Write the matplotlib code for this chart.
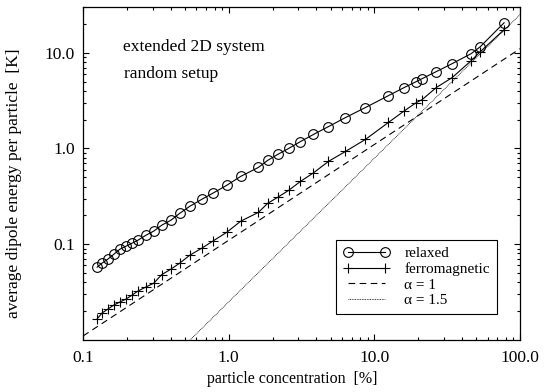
import matplotlib
matplotlib.use("Agg")
import matplotlib.pyplot as plt
from matplotlib.ticker import FixedLocator, FixedFormatter, LogLocator, NullFormatter

plt.rcParams['font.family'] = ['Liberation Serif', 'DejaVu Serif']

# concentration [%]
conc = [0.125, 0.135, 0.148, 0.163, 0.179, 0.197, 0.217, 0.238, 0.270, 0.306,
        0.347, 0.401, 0.461, 0.541, 0.653, 0.776, 0.969, 1.21, 1.60, 1.85,
        2.17, 2.58, 3.11, 3.82, 4.84, 6.33, 8.67, 12.5, 16.0, 19.4,
        21.3, 26.6, 34.2, 46.2, 53.2, 77.7]
relaxed = [0.0576, 0.0634, 0.0698, 0.0787, 0.0887, 0.0953, 0.1024, 0.110, 0.124, 0.137,
           0.158, 0.178, 0.210, 0.249, 0.294, 0.340, 0.412, 0.511, 0.634, 0.750,
           0.866, 1.00, 1.18, 1.40, 1.69, 2.10, 2.67, 3.56, 4.32, 4.99,
           5.36, 6.34, 7.68, 9.77, 11.5, 20.5]
ferro = [0.0166, 0.0191, 0.0210, 0.0232, 0.0249, 0.0267, 0.0294, 0.0324, 0.0357, 0.0392,
         0.0481, 0.0549, 0.0634, 0.0768, 0.0908, 0.1075, 0.133, 0.174, 0.215, 0.267,
         0.309, 0.365, 0.453, 0.556, 0.732, 0.930, 1.24, 1.87, 2.46, 3.01,
         3.24, 4.32, 5.49, 8.25, 10.2, 17.4]

# power-law guide lines (endpoints)
alpha1_x = [0.1, 100.0]
alpha1_y = [0.011, 11.0]
alpha15_x = [0.4, 100.0]
alpha15_y = [0.00632, 25.0]

xticks = [0.1, 1.0, 10.0, 100.0]
xticklabels = ["0.1", "1.0", "10.0", "100.0"]
yticks = [0.1, 1.0, 10.0]
yticklabels = ["0.1", "1.0", "10.0"]

fig = plt.figure(figsize=(5.52, 3.92), dpi=100)
ax = fig.add_axes([0.1504, 0.1327, 0.7917, 0.8495])

ax.plot(conc, relaxed, '-', color='black', lw=0.8, marker='o', ms=7,
        mfc='none', mec='black', mew=0.8, label='relaxed')
ax.plot(conc, ferro, '-', color='black', lw=0.8, marker='+', ms=7.5,
        mew=0.8, label='ferromagnetic')
ax.plot(alpha1_x, alpha1_y, '--', color='black', lw=0.8, dashes=(6, 4),
        label='α = 1')
ax.plot(alpha15_x, alpha15_y, ':', color='black', lw=0.6, dashes=(1, 1),
        label='α = 1.5')

ax.set_xscale('log')
ax.set_yscale('log')
ax.set_xlim(0.1, 100)
ax.set_ylim(0.01, 30)

ax.xaxis.set_major_locator(FixedLocator(xticks))
ax.xaxis.set_major_formatter(FixedFormatter(xticklabels))
ax.yaxis.set_major_locator(FixedLocator(yticks))
ax.yaxis.set_major_formatter(FixedFormatter(yticklabels))
ax.xaxis.set_minor_locator(LogLocator(base=10, subs=range(2, 10)))
ax.yaxis.set_minor_locator(LogLocator(base=10, subs=range(2, 10)))
ax.xaxis.set_minor_formatter(NullFormatter())
ax.yaxis.set_minor_formatter(NullFormatter())

ax.tick_params(which='both', direction='in', top=True, right=True, labelsize=12.5,
               width=0.8, color='black')
ax.tick_params(which='major', length=4.5)
ax.tick_params(axis='x', which='major', pad=7)
ax.tick_params(axis='y', which='major', pad=6)
ax.tick_params(which='minor', length=2.5)
for s in ax.spines.values():
    s.set_linewidth(0.9)

ax.set_xlabel('particle concentration  [%]', fontsize=11.5)
ax.set_ylabel('average dipole energy per particle  [K]', fontsize=12.5)
ax.xaxis.set_label_coords(0.478, -0.093)
ax.yaxis.set_label_coords(-0.14, 0.47)

ax.text(0.0915, 0.88, 'extended 2D system', transform=ax.transAxes, fontsize=12.5,
        va='center', ha='left')
ax.text(0.094, 0.80, 'random setup', transform=ax.transAxes, fontsize=12.5,
        va='center', ha='left')

leg = ax.legend(loc='lower right', bbox_to_anchor=(0.947, 0.078), fontsize=11,
                frameon=True, fancybox=False, edgecolor='black', framealpha=1,
                numpoints=2, handlelength=3.0, handletextpad=1.0,
                borderpad=0.45, labelspacing=0.12, borderaxespad=0)
leg.get_frame().set_linewidth(0.8)

fig.savefig('out.png', dpi=100)
